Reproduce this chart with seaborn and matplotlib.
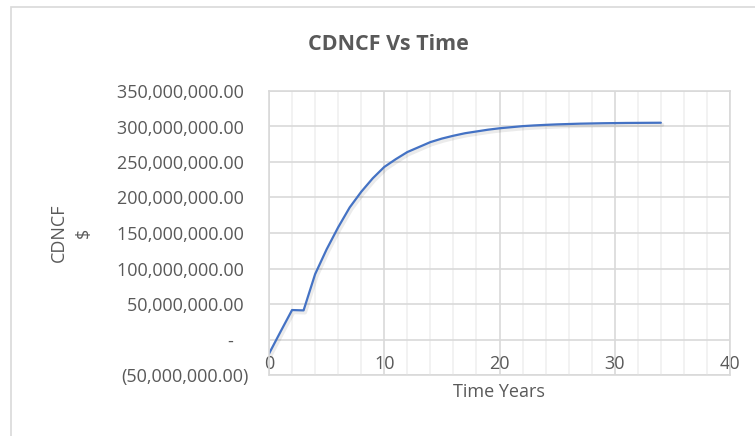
import numpy as np
import pandas as pd
import seaborn as sns
import matplotlib
matplotlib.use("Agg")
import matplotlib.pyplot as plt
import matplotlib.patheffects as pe
from matplotlib.ticker import FuncFormatter, MultipleLocator
from matplotlib.patches import Rectangle

# 1. DATOS
anios = list(range(0, 35))
cdncf_millones = [-20.0, 11.0, 41.5, 41.0, 92.0, 127.0, 158.0, 186.0, 208.0, 227.0,
                  243.0, 254.0, 264.0, 271.0, 278.0, 283.0, 287.0, 290.5, 293.0, 295.5,
                  297.5, 299.0, 300.5, 301.5, 302.3, 303.0, 303.5, 304.0, 304.3, 304.6,
                  304.8, 305.0, 305.1, 305.2, 305.3]
y_ticks = [-50e6, 0, 50e6, 100e6, 150e6, 200e6, 250e6, 300e6, 350e6]
x_ticks = [0, 10, 20, 30, 40]

df = pd.DataFrame({"Time Years": anios, "CDNCF": np.array(cdncf_millones) * 1e6})

# 2. ESTILO
sns.set_theme(style="white")
plt.rcParams['font.family'] = ['Open Sans', 'DejaVu Sans']
gris_texto = "#595959"
gris_grid = "#D9D9D9"

fig = plt.figure(figsize=(7.55, 4.36), dpi=100)
ax = fig.add_axes([269 / 755, 1 - 375 / 436, (730 - 269) / 755, (375 - 91) / 436])

# borde exterior del grafico (estilo Excel)
fig.add_artist(Rectangle((11 / 755, -0.5), 1.5, 1.5 - 7 / 436, transform=fig.transFigure,
                         fill=False, edgecolor=gris_grid, linewidth=1.2))

# 3. CURVA
sns.lineplot(data=df, x="Time Years", y="CDNCF", color="#4472C4", linewidth=1.6, ax=ax,
             path_effects=[pe.SimpleLineShadow(offset=(1, -1.5), shadow_color="black", alpha=0.08,
                                               linewidth=3),
                           pe.Normal()])

ax.set_xlim(0, 40)
ax.set_ylim(-50e6, 350e6)
ax.set_xticks(x_ticks)
ax.xaxis.set_minor_locator(MultipleLocator(2))
ax.set_yticks(y_ticks)

# rejilla
ax.grid(which="major", color=gris_grid, linewidth=1.2)
ax.grid(which="minor", axis="x", color="#F0F0F0", linewidth=1.2)
ax.set_axisbelow(True)
for s in ["top", "right", "left"]:
    ax.spines[s].set_color(gris_grid)
    ax.spines[s].set_linewidth(1.2)
ax.spines["bottom"].set_position(("data", 0))
ax.spines["bottom"].set_visible(False)
ax.axhline(-50e6, color=gris_grid, linewidth=1.2, clip_on=False, zorder=0)


# formato contable de Excel
def formato_contable(v, pos):
    if abs(v) < 1:
        return "-   "
    if v < 0:
        return "({:,.2f})".format(-v)
    return "{:,.2f} ".format(v)


ax.yaxis.set_major_formatter(FuncFormatter(formato_contable))
ax.tick_params(axis="both", which="both", length=0, labelsize=13, labelcolor=gris_texto)
ax.tick_params(axis="x", pad=11)
ax.tick_params(axis="y", pad=15)

ax.set_xlabel("")
ax.set_ylabel("")
fig.text(499 / 755, 1 - 392 / 436, "Time Years", ha="center", va="center", fontsize=13, color=gris_texto)
fig.text(71 / 755, 1 - 233 / 436, "CDNCF\n$", ha="center", va="center", rotation=90,
         fontsize=13, color=gris_texto, linespacing=1.5, multialignment="center")
fig.text(388 / 755, 1 - 45 / 436, "CDNCF Vs Time", ha="center", va="center",
         fontsize=15.5, fontweight="bold", color=gris_texto)

plt.savefig("out.png", dpi=100)
